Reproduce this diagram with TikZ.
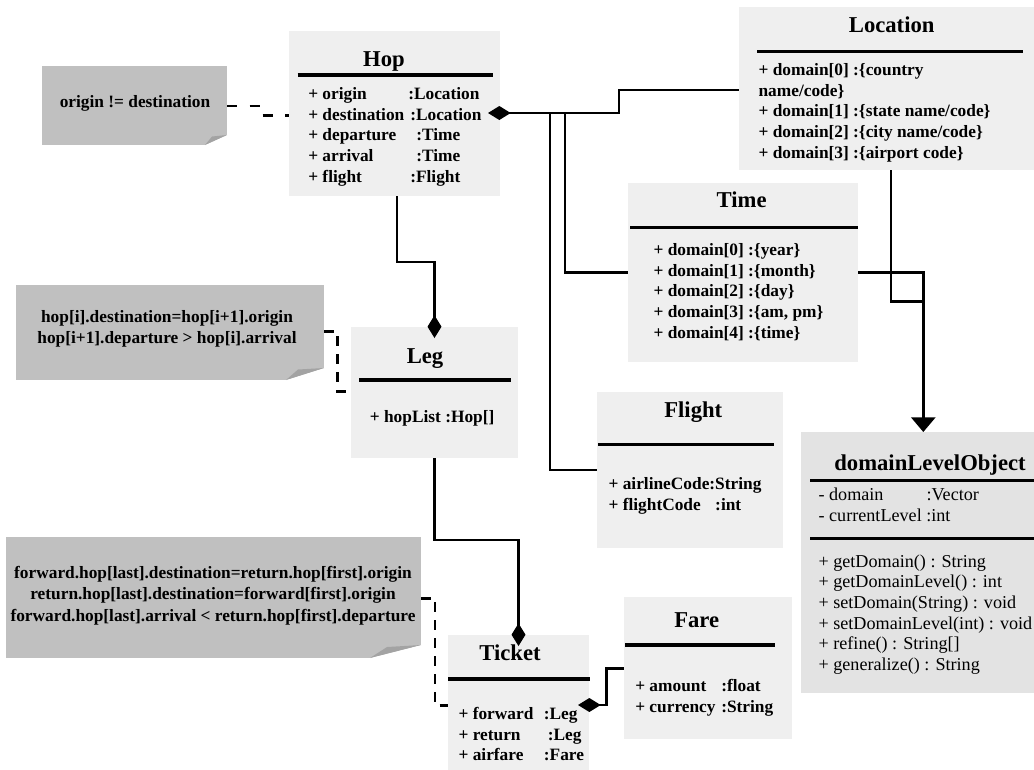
\documentclass[tikz,border=0pt]{standalone}
\usepackage{fontspec}
\setmainfont{Liberation Serif}
\usetikzlibrary{arrows.meta,fit,calc}
\definecolor{boxfill}{HTML}{EFEFEF}
\definecolor{dlofill}{HTML}{E3E3E3}
\definecolor{notefill}{HTML}{C0C0C0}
\definecolor{foldfill}{HTML}{A3A3A3}
\newcommand\attcol[2]{\makebox[#1][l]{#2}}
\tikzset{
  clsbox/.style={fill=boxfill, inner sep=0pt, outer sep=0pt},
  notebox/.style={fill=notefill, inner sep=0pt, outer sep=0pt},
  ttl/.style={font=\fontsize{17}{20}\selectfont\bfseries, inner sep=0pt, anchor=base},
  rows/.style={font=\fontsize{13}{15.5}\selectfont\bfseries, inner sep=0pt, anchor=north west, align=left},
  rowsr/.style={rows, font=\fontsize{13.6}{15.5}\selectfont},
  ntxt/.style={font=\fontsize{13}{16}\selectfont\bfseries, inner sep=0pt, align=center},
  titlerule/.style={line width=2.6pt},
  conn/.style={line width=2.2pt},
  dep/.style={line width=2.2pt, dash pattern=on 7.5pt off 6pt},
  dia/.style={{Diamond[length=17pt,width=10.5pt]}-},
  diaend/.style={-{Diamond[length=17pt,width=10.5pt]}},
  gen/.style={-{Triangle[length=11pt,width=18pt]}},
}
\begin{document}
\begin{tikzpicture}[x=0.75pt,y=-0.75pt]
\useasboundingbox (0,0) rectangle (1034,769);

% ---------- classes ----------
% Hop
\node[clsbox, fit={(289,31) (500,196)}] (hop) {};
\node[ttl] (hopT) at (384,66) {Hop};
\draw[titlerule] (297.5,75) -- (493,75);
\node[rows] (hopA) at (308,84.8) {\strut\attcol{75pt}{+ origin}:Location\\
  \attcol{76.5pt}{+ destination}:Location\\
  \attcol{81pt}{+ departure}:Time\\
  \attcol{81pt}{+ arrival}:Time\\
  \attcol{76.5pt}{+ flight}:Flight};

% Location
\node[clsbox, fit={(739,7) (1040,170)}] (loc) {};
\node[ttl] (locT) at (891.7,32) {Location};
\draw[titlerule] (757,51.7) -- (1023,51.7);
\node[rows] (locA) at (758.3,60.8) {\strut + domain[0] :\{country\\
  name/code\}\\
  + domain[1] :\{state name/code\}\\
  + domain[2] :\{city name/code\}\\
  + domain[3] :\{airport code\}};

% Time
\node[clsbox, fit={(628,183) (858,362)}] (time) {};
\node[ttl] (timeT) at (741.7,207.7) {Time};
\draw[titlerule] (630,227.3) -- (857.7,227.3);
\node[rows] (timeA) at (653.3,240.8) {\strut + domain[0] :\{year\}\\
  + domain[1] :\{month\}\\
  + domain[2] :\{day\}\\
  + domain[3] :\{am, pm\}\\
  + domain[4] :\{time\}};

% Leg
\node[clsbox, fit={(351,327) (518,458)}] (leg) {};
\node[ttl] (legT) at (425,363) {Leg};
\draw[titlerule] (359,380) -- (510.7,380);
\node[rows] (legA) at (369.6,407.5) {\strut + hopList :Hop[]};

% Flight
\node[clsbox, fit={(597,392) (783,548)}] (flight) {};
\node[ttl] (flightT) at (693.3,417) {Flight};
\draw[titlerule] (598,444.3) -- (774,444.3);
\node[rows] (flightA) at (608.3,474.8) {\strut + airlineCode:String\\
  \attcol{80pt}{+ flightCode}:int};

% Ticket
\node[clsbox, fit={(448,635) (589,775)}] (ticket) {};
\node[ttl] (ticketT) at (510,660.3) {Ticket};
\draw[titlerule] (448,679) -- (590,679);
\node[rows] (ticketA) at (458.3,704.8) {\strut\attcol{64pt}{+ forward}:Leg\\
  \attcol{67pt}{+ return}:Leg\\
  \attcol{64pt}{+ airfare}:Fare};

% Fare
\node[clsbox, fit={(624,597) (792,739)}] (fare) {};
\node[ttl] (fareT) at (696.7,627) {Fare};
\draw[titlerule] (625,645) -- (775,645);
\node[rows] (fareA) at (635,676.8) {\strut\attcol{64.5pt}{+ amount}:float\\
  \attcol{64.5pt}{+ currency}:String};

% domainLevelObject
\node[clsbox, fill=dlofill, fit={(801,432) (1040,693)}] (dlo) {};
\node[ttl] (dloT) at (930,470.3) {domainLevelObject};
\draw[titlerule] (810,480.7) -- (1040,480.7);
\node[rowsr] (dloA) at (818.3,485.8) {\strut\attcol{81pt}{- domain}:Vector\\
  - currentLevel :int};
\draw[titlerule] (810,538.3) -- (1040,538.3);
\node[rowsr] (dloB) at (818.3,552.5) {\strut + getDomain() : String\\
  + getDomainLevel() : int\\
  + setDomain(String) : void\\
  + setDomainLevel(int) : void\\
  + refine() : String[]\\
  + generalize() : String};

% ---------- constraint notes ----------
\node[notebox, fit={(42,66) (227,145)}] (n1) {};
\fill[white] ($(n1.south east)+(-22,0)$) -- (n1.south east) -- ($(n1.south east)+(0,-10)$) -- cycle;
\fill[foldfill] ($(n1.south east)+(-22,0)$) -- ($(n1.south east)+(0,-10)$) -- ($(n1.south east)+(-15,-8.5)$) -- cycle;
\node[ntxt] (n1T) at (135,103) {origin != destination};

\node[notebox, fit={(16,285) (324,380)}] (n2) {};
\fill[white] ($(n2.south east)+(-38,0)$) -- (n2.south east) -- ($(n2.south east)+(0,-12)$) -- cycle;
\fill[foldfill] ($(n2.south east)+(-38,0)$) -- ($(n2.south east)+(0,-12)$) -- ($(n2.south east)+(-26,-10.5)$) -- cycle;
\node[ntxt] (n2T) at (167,329) {hop[i].destination=hop[i+1].origin\\hop[i+1].departure > hop[i].arrival};

\node[notebox, fit={(6,537) (421,658)}] (n3) {};
\fill[white] ($(n3.south east)+(-51,0)$) -- (n3.south east) -- ($(n3.south east)+(0,-13)$) -- cycle;
\fill[foldfill] ($(n3.south east)+(-51,0)$) -- ($(n3.south east)+(0,-13)$) -- ($(n3.south east)+(-34,-11)$) -- cycle;
\node[ntxt] (n3T) at (213,595.6) {forward.hop[last].destination=return.hop[first].origin\\return.hop[last].destination=forward[first].origin\\forward.hop[last].arrival < return.hop[first].departure};

% ---------- associations ----------
\coordinate (hopR) at (hop.east |- 0,113);
\coordinate (tkR) at (ticket.east |- 0,705);
\draw[conn,dia] ([xshift=-9pt]hopR) -| (619,90) -- (loc.west |- 0,90);
\draw[conn] (hopR -| 565,0) |- (time.west |- 0,272.7);
\draw[conn] (hopR -| 550,0) |- (flight.west |- 0,470);
\draw[conn,diaend] (hop.south -| 397,0) -- (397,262) -| ([yshift=-8.25pt]leg.north);
\draw[conn,diaend] (leg.south) -- (leg.south |- 0,540) -| ([yshift=-8.25pt]ticket.north);
\draw[conn,dia] ([xshift=-8.25pt]tkR) -| (606.7,668.3) -- (fare.west |- 0,668.3);
\draw[conn] (loc.south -| 891,0) |- (923.3,301.7);
\draw[conn,gen] (time.east |- 0,272.7) -| (dlo.north -| 923.3,0);

% ---------- note anchors ----------
\draw[dep, dash pattern=on 7.5pt off 9.5pt] (n1.east |- 0,106) -- (261,106) -- (261,115.7) -- (hop.west |- 0,115.7);
\draw[dep] (n2.east |- 0,331.7) -| (337.5,391.7) -- (leg.west |- 0,391.7);
\draw[dep] (n3.east |- 0,598.3) -| (435,705.7) -- (ticket.west |- 0,705.7);
\end{tikzpicture}
\end{document}
